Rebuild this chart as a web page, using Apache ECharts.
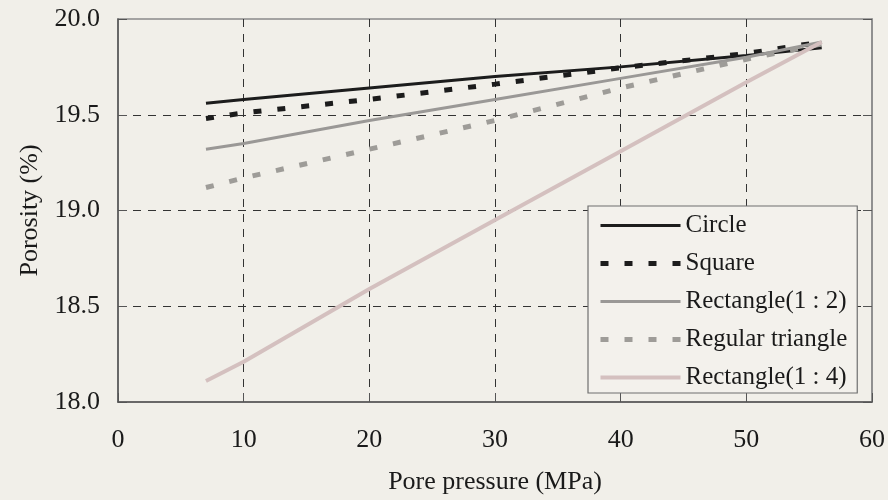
<!DOCTYPE html>
<html>
<head>
<meta charset="utf-8">
<script src="https://cdn.jsdelivr.net/npm/echarts@6/dist/echarts.min.js"></script>
<style>
  html, body { margin: 0; padding: 0; background: #f1efe9; }
  #chart { width: 888px; height: 500px; }
</style>
</head>
<body>
<div id="chart"></div>
<script>
// pore pressure (MPa) where values were read
var pressure = [7, 10, 20, 30, 40, 50, 56];
// porosity (%) per pore shape
var circle = [19.56, 19.58, 19.64, 19.70, 19.75, 19.81, 19.85];
var square = [19.48, 19.51, 19.58, 19.66, 19.745, 19.82, 19.88];
var rect12 = [19.32, 19.35, 19.47, 19.58, 19.69, 19.80, 19.88];
var triangle = [19.12, 19.17, 19.32, 19.47, 19.64, 19.79, 19.87];
var rect14 = [18.11, 18.21, 18.59, 18.95, 19.31, 19.67, 19.88];

var names = ["Circle", "Square", "Rectangle(1 : 2)", "Regular triangle", "Rectangle(1 : 4)"];

function pairs(ys) {
  return pressure.map(function (x, i) { return [x, ys[i]]; });
}

var font = "Liberation Serif";
var chart = echarts.init(document.getElementById("chart"));

var styles = [
  { color: "#1c1c1c", width: 3, dash: false },
  { color: "#1c1c1c", width: 5, dash: true },
  { color: "#9a9896", width: 3, dash: false },
  { color: "#9e9c98", width: 5, dash: true },
  { color: "#d4c0bf", width: 4, dash: false }
];

function lineStyleOf(i) {
  var s = styles[i];
  return { color: s.color, width: s.width, type: s.dash ? [8, 16] : "solid", cap: "butt" };
}

function lineSeries(i, ys) {
  return {
    name: names[i],
    type: "line",
    data: pairs(ys),
    symbol: "none",
    lineStyle: lineStyleOf(i),
    itemStyle: { color: styles[i].color },
    z: 3
  };
}

var option = {
  backgroundColor: "#f1efe9",
  animation: false,
  grid: {
    left: 118, right: 16, top: 19, bottom: 97,
    show: true, borderColor: "#8a8a8a", borderWidth: 1.5, backgroundColor: "transparent"
  },
  legend: {
    orient: "vertical",
    left: 588, top: 206,
    padding: [7, 10, 3, 10],
    itemWidth: 80, itemHeight: 12, itemGap: 13,
    backgroundColor: "#f3f1ec",
    borderColor: "#6f6f6f", borderWidth: 1.2,
    itemStyle: { opacity: 0 },
    textStyle: { fontFamily: font, fontSize: 25, color: "#1a1a1a", lineHeight: 25 },
    data: names.map(function (n, i) {
      return { name: n, lineStyle: lineStyleOf(i) };
    })
  },
  xAxis: {
    type: "value", min: 0, max: 60, interval: 10,
    name: "Pore pressure (MPa)", nameLocation: "middle", nameGap: 67,
    nameTextStyle: { fontFamily: font, fontSize: 26, color: "#1a1a1a" },
    axisLine: { show: true, lineStyle: { color: "#555", width: 1.5 } },
    axisTick: { show: true, inside: true, length: 9, lineStyle: { color: "#555" } },
    axisLabel: { margin: 25, fontFamily: font, fontSize: 26, color: "#1a1a1a" },
    splitLine: {
      show: true, showMinLine: false, showMaxLine: false,
      lineStyle: { color: "#333", type: [8, 7], width: 1 }
    }
  },
  yAxis: [{
    type: "value", min: 18, max: 20, interval: 0.5,
    name: "Porosity (%)", nameLocation: "middle", nameGap: 73, nameRotate: 90,
    nameTextStyle: { fontFamily: font, fontSize: 26, color: "#1a1a1a" },
    axisLine: { show: true, lineStyle: { color: "#555", width: 1.5 } },
    axisTick: { show: true, inside: true, length: 9, lineStyle: { color: "#555" } },
    axisLabel: { margin: 18, fontFamily: font, fontSize: 26, color: "#1a1a1a",
      formatter: function (v) { return v.toFixed(1); } },
    splitLine: {
      show: true, showMinLine: false, showMaxLine: false,
      lineStyle: { color: "#333", type: [8, 7], width: 1 }
    }
  }, {
    type: "value", min: 18, max: 20, interval: 0.5, position: "right",
    axisLine: { show: true, lineStyle: { color: "#8a8a8a", width: 1.5 } },
    axisTick: { show: true, inside: true, length: 9, lineStyle: { color: "#555" } },
    axisLabel: { show: false },
    splitLine: { show: false }
  }],
  series: [
    lineSeries(0, circle),
    lineSeries(1, square),
    lineSeries(2, rect12),
    lineSeries(3, triangle),
    lineSeries(4, rect14)
  ]
};

chart.setOption(option);
</script>
</body>
</html>
